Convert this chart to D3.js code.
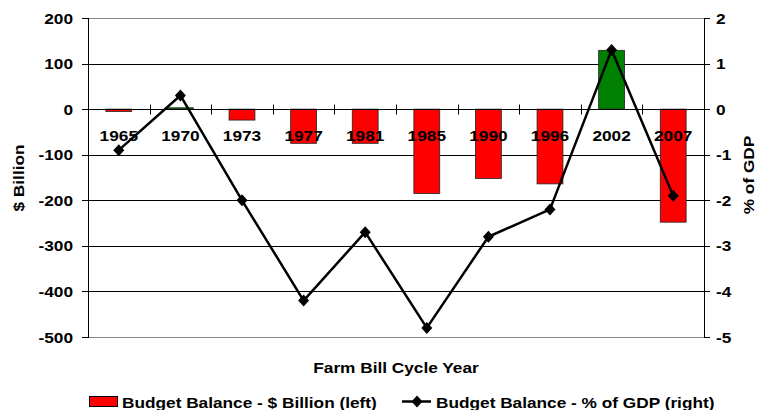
<!DOCTYPE html>
<html>
<head>
<meta charset="utf-8">
<script src="https://cdn.jsdelivr.net/npm/d3@7/dist/d3.min.js"></script>
<style>
  html, body { margin: 0; padding: 0; background: #fff; }
  svg { display: block; }
  text { font-family: "Liberation Sans", Arial, sans-serif; font-weight: bold; fill: #000; }
</style>
</head>
<body>
<svg id="chart" width="764" height="410"></svg>
<script>
// ---- Data ----
const categories = ["1965", "1970", "1973", "1977", "1981", "1985", "1990", "1996", "2002", "2007"];
const balanceBillion = [-5, 3, -24, -75, -75, -185, -152, -164, 129, -248];
const balancePctGDP = [-0.9, 0.3, -2.0, -4.2, -2.7, -4.8, -2.8, -2.2, 1.3, -1.9];
const leftTicks = [200, 100, 0, -100, -200, -300, -400, -500];
const rightTicks = [2, 1, 0, -1, -2, -3, -4, -5];
const seriesNames = ["Budget Balance - $ Billion (left)", "Budget Balance - % of GDP (right)"];
const axisTitles = { x: "Farm Bill Cycle Year", left: "$ Billion", right: "% of GDP" };

// ---- Layout ----
const svg = d3.select("#chart");
const L = 88, R = 704, T = 18, B = 337;
const FS = 15, SX = 1.15; // font size and horizontal stretch

const x = d3.scaleBand().domain(categories).range([L, R]).paddingInner(0.58).paddingOuter(0.29);
const yL = d3.scaleLinear().domain([-500, 200]).range([B, T]);
const yR = d3.scaleLinear().domain([-5, 2]).range([B, T]);
const step = x.step();

function label(g, tx, ty, str, anchor, rot) {
  const t = g.append("g").attr("transform", `translate(${tx},${ty})` + (rot ? ` rotate(${rot})` : "") + ` scale(${SX},1)`);
  t.append("text").attr("text-anchor", anchor || "start").attr("font-size", FS).text(str);
  return t;
}

// Gridlines
svg.append("g").selectAll("line").data(leftTicks).join("line")
  .attr("x1", L).attr("x2", R)
  .attr("y1", d => Math.round(yL(d)) + 0.5).attr("y2", d => Math.round(yL(d)) + 0.5)
  .attr("stroke", d => (d === 200 || d === -500) ? "#888" : "#000")
  .attr("stroke-width", 1);

// Bars
svg.append("g").selectAll("rect").data(categories).join("rect")
  .attr("x", d => x(d))
  .attr("width", x.bandwidth())
  .attr("y", (d, i) => yL(Math.max(0, balanceBillion[i])))
  .attr("height", (d, i) => Math.abs(yL(balanceBillion[i]) - yL(0)))
  .attr("fill", (d, i) => balanceBillion[i] >= 0 ? "#008000" : "#FF0000")
  .attr("stroke", "#222").attr("stroke-width", 0.8);

// Zero line + category ticks
const y0 = Math.round(yL(0)) + 0.5;
svg.append("line").attr("x1", L).attr("x2", R).attr("y1", y0).attr("y2", y0).attr("stroke", "#000");
svg.append("g").selectAll("line").data(d3.range(1, categories.length)).join("line")
  .attr("x1", i => Math.round(L + i * step) + 0.5).attr("x2", i => Math.round(L + i * step) + 0.5)
  .attr("y1", y0 - 5).attr("y2", y0 + 5).attr("stroke", "#000");

// Axes lines
const axL = svg.append("g");
axL.append("line").attr("x1", L + 0.5).attr("x2", L + 0.5).attr("y1", T).attr("y2", B + 1).attr("stroke", "#000");
axL.selectAll("line.t").data(leftTicks).join("line").attr("class", "t")
  .attr("x1", L - 6).attr("x2", L).attr("y1", d => Math.round(yL(d)) + 0.5).attr("y2", d => Math.round(yL(d)) + 0.5).attr("stroke", "#000");
leftTicks.forEach(d => label(axL, 73, yL(d) + 5.5, String(d), "end"));

const axR = svg.append("g");
axR.append("line").attr("x1", R + 0.5).attr("x2", R + 0.5).attr("y1", T).attr("y2", B + 1).attr("stroke", "#000");
axR.selectAll("line.t").data(rightTicks).join("line").attr("class", "t")
  .attr("x1", R).attr("x2", R + 6).attr("y1", d => Math.round(yR(d)) + 0.5).attr("y2", d => Math.round(yR(d)) + 0.5).attr("stroke", "#000");
rightTicks.forEach(d => label(axR, 716, yR(d) + 5.5, String(d), "start"));

// Category labels
const catG = svg.append("g");
categories.forEach(c => label(catG, x(c) + x.bandwidth() / 2, 140.5, c, "middle"));

// Line + markers
const lineGen = d3.line().x((d, i) => x(categories[i]) + x.bandwidth() / 2).y(d => yR(d));
svg.append("path").datum(balancePctGDP).attr("d", lineGen)
  .attr("fill", "none").attr("stroke", "#000").attr("stroke-width", 2.5).attr("stroke-linejoin", "round");
const diamond = "M0,-6L5.5,0L0,6L-5.5,0Z";
svg.append("g").selectAll("path").data(balancePctGDP).join("path")
  .attr("transform", (d, i) => `translate(${x(categories[i]) + x.bandwidth() / 2},${yR(d)})`)
  .attr("d", diamond).attr("fill", "#000");

// Axis titles
const tg = svg.append("g");
label(tg, 396, 373, axisTitles.x, "middle");
label(tg, 24, 178, axisTitles.left, "middle", -90);
label(tg, 754, 175, axisTitles.right, "middle", -90);

// Legend
const lg = svg.append("g");
lg.append("rect").attr("x", 89.5).attr("y", 396.5).attr("width", 28).attr("height", 10).attr("fill", "#FF0000").attr("stroke", "#000");
label(lg, 122, 407.5, seriesNames[0], "start");
lg.append("line").attr("x1", 402).attr("x2", 431).attr("y1", 401.5).attr("y2", 401.5).attr("stroke", "#000").attr("stroke-width", 2.5);
lg.append("path").attr("transform", "translate(417,401.5)").attr("d", diamond).attr("fill", "#000");
label(lg, 436, 407.5, seriesNames[1], "start");
</script>
</body>
</html>
